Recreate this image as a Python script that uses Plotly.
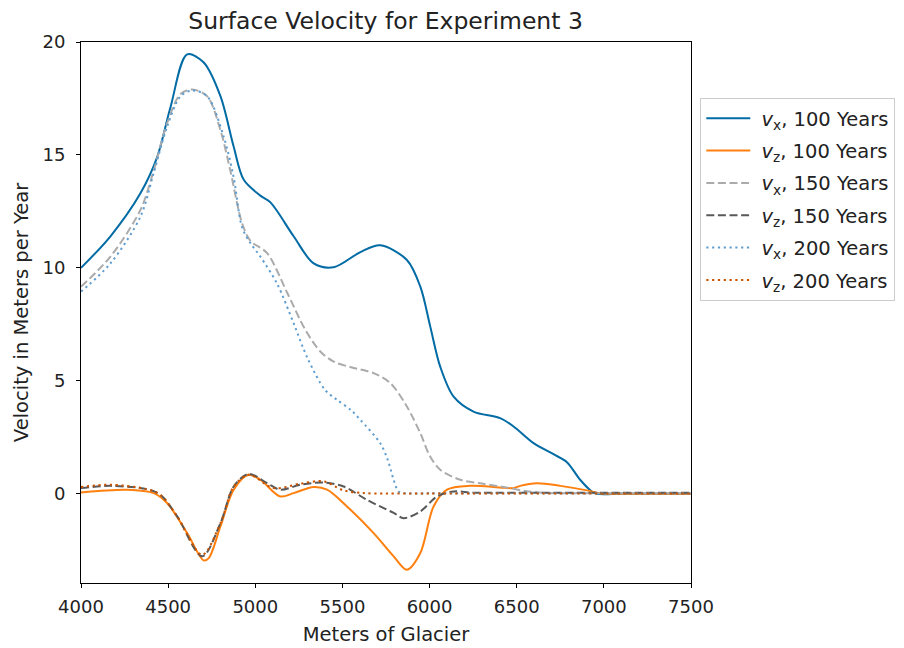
import plotly.graph_objects as go

# vx, 100 years
vx100_x = [4000, 4169, 4341, 4437, 4513, 4609, 4703, 4800, 4875, 4934, 5029, 5087, 5220, 5335, 5450, 5603, 5717,
           5870, 5947, 6004, 6061, 6138, 6252, 6405, 6482, 6597, 6711, 6788, 6864, 6931, 6960, 7100, 7300, 7500]
vx100_y = [10.0, 11.4, 13.3, 14.9, 17.1, 19.45, 19.1, 17.6, 15.4, 13.9, 13.2, 12.9, 11.4, 10.2, 10.03, 10.7, 11.0,
           10.35, 9.17, 7.4, 5.63, 4.3, 3.64, 3.35, 2.98, 2.24, 1.75, 1.4, 0.62, 0.1, 0.0, 0.0, 0.0, 0.0]

# vz, 100 years
vz100_x = [4000, 4265, 4417, 4494, 4609, 4704, 4733, 4800, 4876, 4962, 5029, 5144, 5220, 5335, 5412, 5526, 5679,
           5794, 5870, 5947, 6023, 6100, 6233, 6400, 6482, 6520, 6616, 6750, 6903, 6980, 7100, 7300, 7500]
vz100_y = [0.06, 0.18, 0.03, -0.41, -1.74, -2.95, -2.85, -1.45, 0.18, 0.84, 0.62, -0.12, 0.03, 0.3, 0.18, -0.56,
           -1.74, -2.77, -3.36, -2.62, -0.56, 0.18, 0.35, 0.28, 0.25, 0.35, 0.47, 0.35, 0.15, 0.02, 0.0, 0.0, 0.0]

# vx, 150 years
vx150_x = [4000, 4169, 4341, 4417, 4494, 4571, 4638, 4724, 4800, 4857, 4924, 4972, 5068, 5183, 5287, 5373, 5450,
           5550, 5679, 5775, 5870, 5947, 6000, 6061, 6176, 6300, 6463, 6550, 6650, 6800, 7000, 7250, 7500]
vx150_y = [9.17, 10.5, 12.57, 14.3, 16.4, 17.7, 17.9, 17.6, 16.1, 14.3, 11.98, 11.2, 10.65, 8.9, 7.26, 6.3, 5.85,
           5.6, 5.34, 4.9, 3.86, 2.68, 1.7, 1.06, 0.62, 0.45, 0.25, 0.12, 0.04, 0.02, 0.02, 0.02, 0.02]

# vz, 150 years
vz150_x = [4000, 4169, 4380, 4456, 4552, 4695, 4800, 4876, 4962, 5068, 5144, 5259, 5392, 5507, 5641, 5794, 5851,
           5947, 6043, 6138, 6250, 6500, 7000, 7500]
vz150_y = [0.25, 0.35, 0.2, -0.05, -1.0, -2.77, -1.3, 0.32, 0.88, 0.47, 0.18, 0.4, 0.5, 0.32, -0.27, -0.85, -1.08,
           -0.78, -0.12, 0.1, 0.05, 0.05, 0.05, 0.05]

# vx, 200 years
vx200_x = [4000, 4169, 4341, 4417, 4494, 4571, 4638, 4724, 4819, 4876, 4924, 4972, 5029, 5125, 5220, 5300, 5400,
           5469, 5550, 5603, 5717, 5760, 5794, 5822, 5860, 6000, 6250, 6500, 7000, 7500]
vx200_y = [8.95, 10.2, 12.27, 14.2, 16.25, 17.6, 17.85, 17.6, 15.8, 14.0, 11.8, 11.1, 10.5, 9.3, 7.55, 6.0, 4.6,
           4.16, 3.7, 3.27, 2.24, 1.5, 0.62, 0.1, 0.02, 0.02, 0.02, 0.02, 0.02, 0.02]

# vz, 200 years
vz200_x = [4000, 4169, 4380, 4456, 4552, 4695, 4800, 4876, 4962, 5106, 5259, 5392, 5507, 5620, 5750, 6000, 6500,
           7000, 7500]
vz200_y = [0.3, 0.4, 0.2, -0.05, -1.0, -2.7, -1.3, 0.32, 0.84, 0.25, 0.45, 0.55, 0.15, 0.03, 0.01, 0.01, 0.01,
           0.01, 0.01]

x_ticks = [4000, 4500, 5000, 5500, 6000, 6500, 7000, 7500]
y_ticks = [0, 5, 10, 15, 20]

series = [
    (vx100_x, vx100_y, "&nbsp;<i>v</i><sub>x</sub>, 100 Years", "#006BA4", "solid"),
    (vz100_x, vz100_y, "&nbsp;<i>v</i><sub>z</sub>, 100 Years", "#FF800E", "solid"),
    (vx150_x, vx150_y, "&nbsp;<i>v</i><sub>x</sub>, 150 Years", "#ABABAB", "8px,3.6px"),
    (vz150_x, vz150_y, "&nbsp;<i>v</i><sub>z</sub>, 150 Years", "#595959", "8px,3.6px"),
    (vx200_x, vx200_y, "&nbsp;<i>v</i><sub>x</sub>, 200 Years", "#5F9ED1", "2.2px,3.6px"),
    (vz200_x, vz200_y, "&nbsp;<i>v</i><sub>z</sub>, 200 Years", "#C85200", "2.2px,3.6px"),
]

fig = go.Figure()
for i, (xs, ys, name, color, dash) in enumerate(series):
    fig.add_trace(go.Scatter(x=xs, y=ys, mode="lines", name=name, legendgroup=f"g{i}",
                             line=dict(color=color, width=2, dash=dash, shape="spline", smoothing=0.9)))

# page body has an 8px margin: figure is shifted by (8, 8)
OFF = 8
W, H = 904 - OFF, 648 - OFF
L, R, T, B = 80.5 - OFF, 690.7 - OFF, 42 - OFF, 583 - OFF

font_family = "DejaVu Sans"
fig.update_layout(
    width=W, height=H,
    margin=dict(l=L, r=W - R, t=T, b=H - B, autoexpand=False),
    paper_bgcolor="white", plot_bgcolor="white",
    font=dict(family=font_family, size=18, color="black"),
    title=dict(text="Surface Velocity for Experiment 3", x=(L + R) / 2 / W, xanchor="center",
               y=1 - (21 - OFF) / H, yanchor="middle", font=dict(size=23.5, family=font_family, color="#222222")),
    showlegend=True,
    legend=dict(x=(700 - OFF - L) / (R - L), y=(B - (98 - OFF)) / (B - T), xanchor="left", yanchor="top",
                bordercolor="#cccccc", borderwidth=1, bgcolor="white", itemwidth=44,
                font=dict(size=19.5, family=font_family, color="#222222"), tracegroupgap=4),
)
fig.update_xaxes(range=[4000, 7500], tickvals=x_ticks, ticks="outside", ticklen=4, tickcolor="black",
                 tickfont=dict(size=18, color="#222222"), ticklabelstandoff=3,
                 showline=True, linecolor="black", linewidth=1, mirror=True, showgrid=False, zeroline=False,
                 title=dict(text="Meters of Glacier", standoff=11, font=dict(size=19.5, color="#222222")))
fig.update_yaxes(range=[-3.95, 20], tickvals=y_ticks, ticks="outside", ticklen=4, tickcolor="black",
                 tickfont=dict(size=18, color="#222222"), ticklabelstandoff=7,
                 showline=True, linecolor="black", linewidth=1, mirror=True, showgrid=False, zeroline=False,
                 title=dict(text="Velocity in Meters per Year", standoff=8, font=dict(size=19.5, color="#222222")))

fig.write_html("out.html")
